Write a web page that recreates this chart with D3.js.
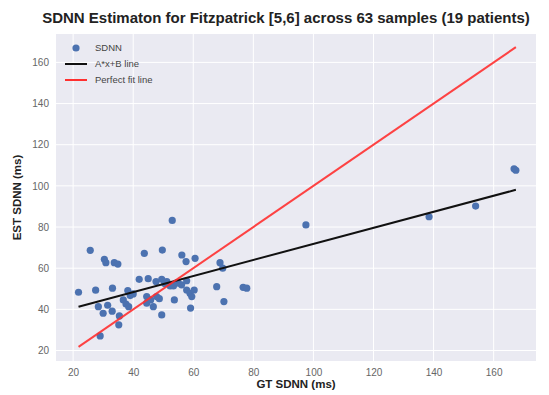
<!DOCTYPE html>
<html>
<head>
<meta charset="utf-8">
<script src="https://cdn.jsdelivr.net/npm/d3@7"></script>
<style>
  body { margin: 0; background: #fff; }
  text { font-family: "Liberation Sans", Arial, sans-serif; }
</style>
</head>
<body>
<svg width="549" height="395"></svg>
<script>
// GT SDNN (ms) for each sample
var gtSdnn = [21.8, 25.7, 27.5, 30.4, 30.9, 33.1, 33.7, 34.9, 28.4, 30.0,
  31.5, 33.0, 29.0, 35.4, 35.2, 36.7, 37.6, 38.5, 38.2, 39.0,
  42.0, 43.7, 45.0, 44.5, 44.5, 45.8, 46.7, 47.8, 48.7, 49.5,
  49.7, 53.0, 47.6, 49.5, 51.2, 52.3, 53.7, 53.4, 55.0, 56.1,
  56.2, 57.6, 60.6, 57.8, 57.8, 58.9, 59.5, 60.3, 59.1, 67.8,
  68.9, 69.8, 70.2, 76.6, 77.8, 97.5, 138.5, 154.0, 166.8, 167.4,
  50.5, 54.5, 40.0];
// EST SDNN (ms) for each sample
var estSdnn = [48.3, 68.7, 49.3, 64.3, 62.7, 50.3, 62.7, 62.0, 41.3, 38.1,
  42.0, 39.1, 27.1, 36.8, 32.5, 44.6, 42.6, 41.3, 49.1, 46.7,
  54.6, 67.2, 54.9, 46.2, 43.0, 44.6, 41.3, 46.2, 45.2, 37.3,
  68.8, 83.2, 53.5, 54.6, 53.5, 51.4, 44.6, 51.4, 52.7, 51.9,
  66.4, 63.2, 64.8, 53.9, 49.4, 47.8, 46.2, 49.4, 40.6, 51.0,
  62.7, 60.0, 43.8, 50.7, 50.3, 81.0, 85.0, 90.2, 108.3, 107.6,
  52.5, 53.0, 47.5];
// fitted line EST = A*GT + B
var fitA = 0.39, fitB = 32.8;
var xTicks = [20, 40, 60, 80, 100, 120, 140, 160];
var yTicks = [20, 40, 60, 80, 100, 120, 140, 160];

var svg = d3.select("svg");
var m = {left: 56, right: 13, top: 34, bottom: 34};
var width = 549 - m.left - m.right,
    height = 395 - m.top - m.bottom;

var samples = gtSdnn.map(function(d, i) { return {x: d, y: estSdnn[i]}; });
var ext = d3.extent(gtSdnn);

var x = d3.scaleLinear().domain([14.3, 174.1]).range([0, width]);
var y = d3.scaleLinear().domain([14.9, 173.8]).range([height, 0]);

var g = svg.append("g").attr("transform", "translate(" + m.left + "," + m.top + ")");

g.append("rect").attr("width", width).attr("height", height).attr("fill", "#eaeaf2");

g.selectAll(".gx").data(xTicks).enter().append("line")
  .attr("x1", x).attr("x2", x).attr("y1", 0).attr("y2", height)
  .attr("stroke", "#fff").attr("stroke-width", 1);
g.selectAll(".gy").data(yTicks).enter().append("line")
  .attr("y1", y).attr("y2", y).attr("x1", 0).attr("x2", width)
  .attr("stroke", "#fff").attr("stroke-width", 1);

var xAxis = g.append("g").attr("transform", "translate(0," + height + ")")
  .call(d3.axisBottom(x).tickValues(xTicks).tickSize(0).tickPadding(8));
var yAxis = g.append("g")
  .call(d3.axisLeft(y).tickValues(yTicks).tickSize(0).tickPadding(7));
[xAxis, yAxis].forEach(function(a) {
  a.select(".domain").remove();
  a.selectAll("text").attr("fill", "#666").style("font-size", "10px")
    .style("font-family", "'Liberation Sans', Arial, sans-serif");
});

g.selectAll("circle").data(samples).enter().append("circle")
  .attr("cx", function(d) { return x(d.x); })
  .attr("cy", function(d) { return y(d.y); })
  .attr("r", 3.6)
  .attr("fill", "#4c72b0");

var line = d3.line().x(function(d) { return x(d[0]); }).y(function(d) { return y(d[1]); });

g.append("path")
  .datum([[ext[0], fitA * ext[0] + fitB], [ext[1], fitA * ext[1] + fitB]])
  .attr("d", line).attr("stroke", "#111").attr("stroke-width", 2).attr("fill", "none");

g.append("path")
  .datum([[ext[0], ext[0]], [ext[1], ext[1]]])
  .attr("d", line).attr("stroke", "#ff3030").attr("stroke-width", 2)
  .attr("stroke-opacity", 0.9).attr("fill", "none");

// legend
var legend = [
  {label: "SDNN", kind: "dot", color: "#4c72b0"},
  {label: "A*x+B line", kind: "line", color: "#111"},
  {label: "Perfect fit line", kind: "line", color: "#ff3030"}
];
var lg = g.append("g").attr("transform", "translate(9,14)");
legend.forEach(function(d, i) {
  var row = lg.append("g").attr("transform", "translate(0," + (i * 16) + ")");
  if (d.kind == "dot") {
    row.append("circle").attr("cx", 11).attr("cy", 0).attr("r", 3.6).attr("fill", d.color);
  } else {
    row.append("line").attr("x1", 0).attr("x2", 22).attr("y1", 0).attr("y2", 0)
      .attr("stroke", d.color).attr("stroke-width", 2);
  }
  row.append("text").attr("x", 30).attr("y", 0).attr("dy", "0.35em")
    .attr("fill", "#444").style("font-size", "9.5px").text(d.label);
});

svg.append("text").attr("x", 286).attr("y", 23)
  .attr("text-anchor", "middle").attr("fill", "#222")
  .style("font-size", "15px").style("font-weight", "bold")
  .text("SDNN Estimaton for Fitzpatrick [5,6] across 63 samples (19 patients)");

svg.append("text").attr("x", m.left + width / 2).attr("y", 388)
  .attr("text-anchor", "middle").attr("fill", "#222")
  .style("font-size", "11.5px").style("font-weight", "bold")
  .text("GT SDNN (ms)");

svg.append("text").attr("transform", "translate(21," + (m.top + height / 2) + ") rotate(-90)")
  .attr("text-anchor", "middle").attr("fill", "#222")
  .style("font-size", "11.5px").style("font-weight", "bold")
  .text("EST SDNN (ms)");
</script>
</body>
</html>
